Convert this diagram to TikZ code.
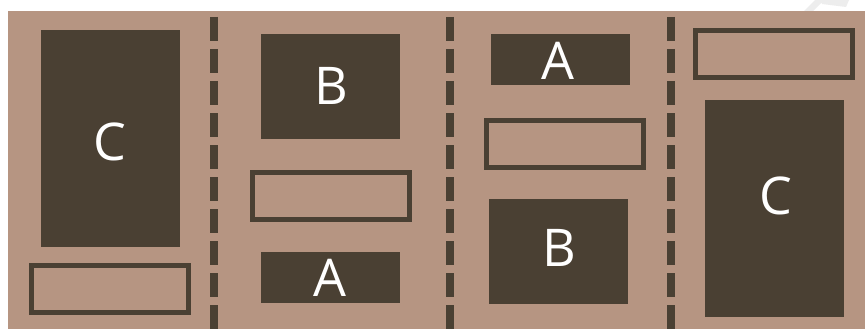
\documentclass[tikz,border=0pt]{standalone}
\usepackage{fontspec}
\setmainfont{Open Sans}
\usetikzlibrary{positioning}
\definecolor{cafeoscuro}{RGB}{74,64,51}
\definecolor{arena}{RGB}{182,149,130}
\tikzset{
  lleno/.style={
    fill=cafeoscuro,
    minimum width=139pt,
    inner sep=0pt,
    outer sep=0pt
  },
  hueco/.style={
    draw=cafeoscuro,
    line width=5pt,
    minimum width=157pt,
    minimum height=47pt,
    inner sep=0pt,
    outer sep=0pt
  },
  letra/.style={
    text=white,
    inner sep=0pt,
    font=\fontsize{52}{52}\selectfont
  },
  corte/.style={
    cafeoscuro,
    line width=8pt,
    dash pattern=on 24pt off 8pt
  }
}

\begin{document}
\begin{tikzpicture}[x=1pt,y=-1pt]
\useasboundingbox (0,0) rectangle (865,329);
\fill[white] (0,0) rectangle (865,329);
\fill[arena] (8,11) rectangle (865,329);
\fill[black!7] (804,11) -- (813,11) -- (824,0) -- (815,0) -- cycle;
\fill[black!7] (820,0) -- (849,0) -- (846,7) -- (822,4) -- cycle;

% separadores
\coordinate (s1a) at (213.5,17);  \coordinate (s1b) at (213.5,329);
\coordinate (s2a) at (449.7,17);  \coordinate (s2b) at (449.7,329);
\coordinate (s3a) at (671,17);    \coordinate (s3b) at (671,329);
\draw[corte] (s1a) -- (s1b);
\draw[corte] (s2a) -- (s2b);
\draw[corte] (s3a) -- (s3b);

% panel 1
\node[lleno, minimum height=216.7pt] (c1) at (110.5,138.3) {};
\node[hueco] (h1) at (109.5,288.8) {};
\node[letra] (tc1) at (110.2,142.2) {C};

% panel 2
\node[lleno, minimum height=104.7pt] (b2) at (330.5,86.3) {};
\node[hueco] (h2) at (331.3,196.3) {};
\node[lleno, minimum height=51pt] (a2) at (330.5,277.2) {};
\node[letra] (tb2) at (331,86) {B};
\node[letra] (ta2) at (330.3,278.3) {A};

% panel 3
\node[lleno, minimum height=50.7pt] (a3) at (560.5,59.3) {};
\node[hueco] (h3) at (565,144.2) {};
\node[lleno, minimum height=104.7pt] (b3) at (558.5,251.3) {};
\node[letra] (ta3) at (558,60.8) {A};
\node[letra] (tb3) at (559.7,247.8) {B};

% panel 4
\node[hueco] (h4) at (774.2,53.8) {};
\node[lleno, minimum height=216.7pt] (c4) at (774.5,208.3) {};
\node[letra] (tc4) at (776,195.8) {C};
\end{tikzpicture}
\end{document}
